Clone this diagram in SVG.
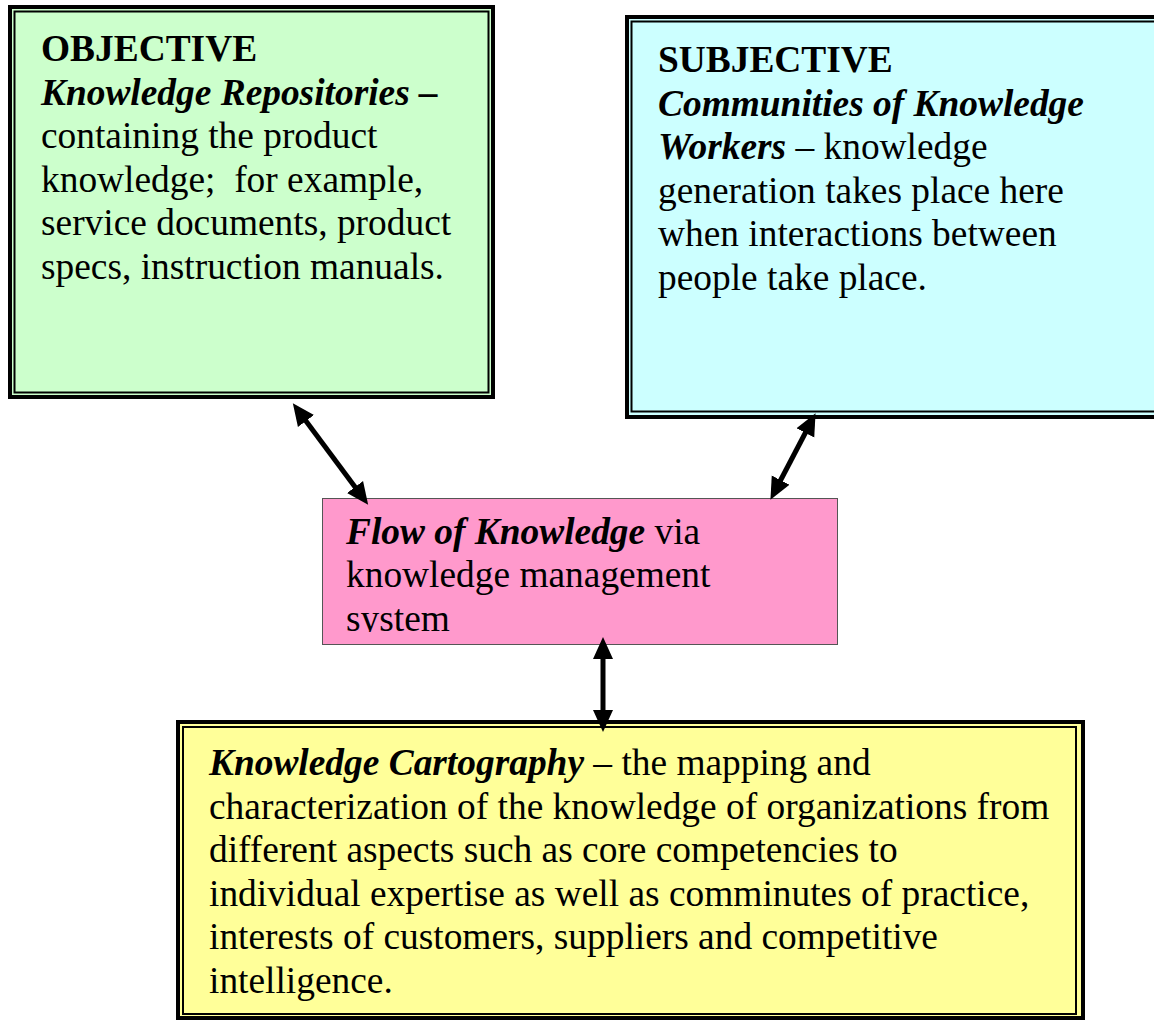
<svg xmlns="http://www.w3.org/2000/svg" width="1154" height="1020" viewBox="0 0 1154 1020">
<style>
text{font-family:"Liberation Serif","Times New Roman",serif;font-size:37.4px;fill:#000}
.b{font-weight:bold}
.bi{font-weight:bold;font-style:italic}
.ob{fill:none;stroke:#000;stroke-width:4}
.ib{fill:none;stroke:#000;stroke-width:2}
.conn{stroke:#000;stroke-width:5;fill:none;marker-start:url(#ah);marker-end:url(#ah)}
</style>
<defs>
<marker id="ah" markerUnits="userSpaceOnUse" markerWidth="24" markerHeight="22" refX="10" refY="10" orient="auto-start-reverse" viewBox="0 0 24 20">
<path d="M0,0 L22,10 L0,20 z" fill="#000"/>
</marker>
<clipPath id="pc"><rect x="322" y="498" width="516" height="134"/></clipPath>
</defs>
<rect width="1154" height="1020" fill="#fff"/>
<g id="objective">
<rect x="8" y="5" width="487" height="394" fill="#CCFFCC"/>
<rect class="ob" x="10" y="7" width="483" height="390"/>
<rect class="ib" x="14.5" y="11.5" width="474" height="381"/>
<text x="41" y="61" class="b">OBJECTIVE</text>
<text x="41" y="104.5" class="bi">Knowledge Repositories –</text>
<text x="41" y="148">containing the product</text>
<text x="41" y="191.5">knowledge;&#160; for example,</text>
<text x="41" y="235">service documents, product</text>
<text x="41" y="278.5">specs, instruction manuals.</text>
</g>
<g id="subjective">
<rect x="625" y="15" width="540" height="404" fill="#CCFFFF"/>
<rect class="ob" x="627" y="17" width="540" height="400"/>
<rect class="ib" x="631.5" y="21.5" width="540" height="390"/>
<text x="658" y="72" class="b">SUBJECTIVE</text>
<text x="658" y="115.5" class="bi">Communities of Knowledge</text>
<text x="658" y="159"><tspan class="bi">Workers</tspan> – knowledge</text>
<text x="658" y="202.5">generation takes place here</text>
<text x="658" y="246">when interactions between</text>
<text x="658" y="289.5">people take place.</text>
</g>
<g id="flow">
<rect x="322.5" y="498.5" width="515" height="146" fill="#FF99CC" stroke="#555" stroke-width="1"/>
<g clip-path="url(#pc)">
<text x="346" y="543.5"><tspan class="bi">Flow of Knowledge</tspan> via</text>
<text x="346" y="587">knowledge management</text>
<text x="346" y="630.5">system</text>
</g>
</g>
<g id="cartography">
<rect x="176" y="720" width="909" height="300" fill="#FFFF99"/>
<rect class="ob" x="178" y="722" width="905" height="296"/>
<rect class="ib" x="183" y="727" width="893" height="287"/>
<text x="209" y="775"><tspan class="bi">Knowledge Cartography</tspan> – the mapping and</text>
<text x="209" y="818.5">characterization of the knowledge of organizations from</text>
<text x="209" y="862">different aspects such as core competencies to</text>
<text x="209" y="905.5">individual expertise as well as comminutes of practice,</text>
<text x="209" y="949">interests of customers, suppliers and competitive</text>
<text x="209" y="992.5">intelligence.</text>
</g>
<g id="connectors">
<line class="conn" x1="300" y1="413" x2="361" y2="495"/>
<line class="conn" x1="810" y1="424" x2="776" y2="489"/>
<line class="conn" x1="603" y1="649" x2="603" y2="720"/>
</g>
</svg>
